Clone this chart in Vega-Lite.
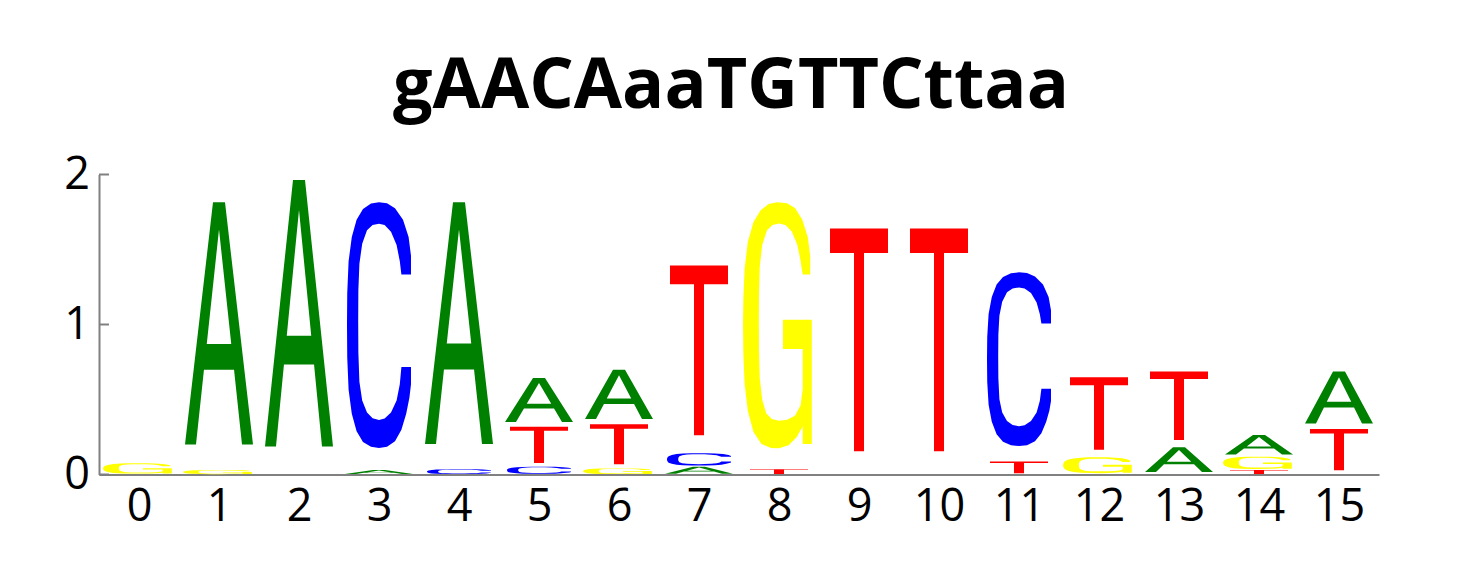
{
  "$schema": "https://vega.github.io/schema/vega-lite/v6.json",
  "description": "Sequence logo for the motif gAACAaaTGTTCttaa, letter heights in bits.",
  "autosize": {"type": "none"},
  "padding": {"left": 99, "top": 174.5, "right": 101, "bottom": 100.5},
  "width": 1280,
  "height": 300,
  "background": "white",
  "title": {
    "text": "gAACAaaTGTTCttaa",
    "font": "Open Sans",
    "fontSize": 70,
    "fontWeight": "bold",
    "color": "black",
    "anchor": "middle",
    "baseline": "alphabetic",
    "offset": 63,
    "dy": 88,
    "dx": -8
  },
  "datasets": {
    "glyphs": [
      {
        "base": "A",
        "gx": [-0.425, -0.075, 0.075, 0.425, 0.2875, 0.188, 0, 0, 0.153, 0, -0.153, 0, 0, -0.188, -0.2875],
        "gy": [0.095, 1, 1, 0.095, 0.095, 0.374, 0.374, 0.471, 0.471, 0.898, 0.471, 0.471, 0.374, 0.374, 0.095],
        "gi": [0, 1, 2, 3, 4, 5, 6, 7, 8, 9, 10, 11, 12, 13, 14]
      },
      {
        "base": "T",
        "gx": [-0.3625, 0.3625, 0.3625, 0.0625, 0.0625, -0.0625, -0.0625, -0.3625],
        "gy": [1, 1, 0.9, 0.9, 0.095, 0.095, 0.9, 0.9],
        "gi": [0, 1, 2, 3, 4, 5, 6, 7]
      },
      {
        "base": "C",
        "gx": [0.4, 0.4, 0.37, 0.3, 0.2, 0.1, 0, -0.1, -0.2, -0.28, -0.34, -0.38, -0.397, -0.4, -0.397, -0.38, -0.34, -0.28, -0.2, -0.1, 0, 0.1, 0.2, 0.28, 0.34, 0.38, 0.4, 0.4,
               0.28, 0.26, 0.22, 0.15, 0.07, 0, -0.08, -0.15, -0.21, -0.245, -0.258, -0.26, -0.258, -0.245, -0.21, -0.15, -0.08, 0, 0.07, 0.15, 0.22, 0.26, 0.28],
        "gy": [0.73, 0.8, 0.87, 0.935, 0.978, 0.996, 1, 0.995, 0.975, 0.935, 0.87, 0.78, 0.66, 0.54, 0.42, 0.3, 0.21, 0.145, 0.105, 0.087, 0.082, 0.087, 0.107, 0.15, 0.21, 0.27, 0.32, 0.385,
               0.385, 0.32, 0.26, 0.215, 0.192, 0.187, 0.193, 0.215, 0.26, 0.33, 0.44, 0.554, 0.67, 0.77, 0.845, 0.895, 0.915, 0.92, 0.915, 0.89, 0.84, 0.78, 0.73],
        "gi": [0, 1, 2, 3, 4, 5, 6, 7, 8, 9, 10, 11, 12, 13, 14, 15, 16, 17, 18, 19, 20, 21, 22, 23, 24, 25, 26, 27,
               28, 29, 30, 31, 32, 33, 34, 35, 36, 37, 38, 39, 40, 41, 42, 43, 44, 45, 46, 47, 48, 49, 50]
      },
      {
        "base": "G",
        "gx": [0.39, 0.39, 0.36, 0.29, 0.2, 0.1, -0.02, -0.13, -0.23, -0.32, -0.39, -0.43, -0.445, -0.45, -0.445, -0.43, -0.39, -0.32, -0.22, -0.1, 0, 0.12, 0.22, 0.296, 0.296, 0.41, 0.41, 0.05, 0.05, 0.296,
               0.296, 0.27, 0.2, 0.1, 0, -0.09, -0.16, -0.21, -0.24, -0.25, -0.252, -0.25, -0.24, -0.21, -0.15, -0.08, 0, 0.08, 0.16, 0.23, 0.27, 0.296],
        "gy": [0.729, 0.8, 0.87, 0.935, 0.978, 0.996, 1, 0.993, 0.97, 0.925, 0.85, 0.75, 0.64, 0.54, 0.43, 0.32, 0.22, 0.14, 0.095, 0.08, 0.079, 0.09, 0.12, 0.16, 0.095, 0.095, 0.56, 0.56, 0.45, 0.45,
               0.3, 0.24, 0.2, 0.185, 0.182, 0.188, 0.21, 0.26, 0.34, 0.44, 0.55, 0.66, 0.76, 0.84, 0.895, 0.915, 0.92, 0.915, 0.89, 0.84, 0.78, 0.729],
        "gi": [0, 1, 2, 3, 4, 5, 6, 7, 8, 9, 10, 11, 12, 13, 14, 15, 16, 17, 18, 19, 20, 21, 22, 23, 24, 25, 26, 27, 28, 29,
               30, 31, 32, 33, 34, 35, 36, 37, 38, 39, 40, 41, 42, 43, 44, 45, 46, 47, 48, 49, 50, 51]
      }
    ],
    "yticks": [
      {"bits": 0, "label": "0", "from": -0.5, "to": -0.375},
      {"bits": 1, "label": "1", "from": -0.5, "to": -0.375},
      {"bits": 2, "label": "2", "from": -0.5, "to": -0.375}
    ],
    "logo": [
      {"pos": 0, "base": "G", "bits": 0.075},
      {"pos": 1, "base": "G", "bits": 0.03},
      {"pos": 1, "base": "A", "bits": 1.785},
      {"pos": 2, "base": "A", "bits": 1.963},
      {"pos": 3, "base": "A", "bits": 0.03},
      {"pos": 3, "base": "C", "bits": 1.785},
      {"pos": 4, "base": "C", "bits": 0.035},
      {"pos": 4, "base": "A", "bits": 1.78},
      {"pos": 5, "base": "C", "bits": 0.052},
      {"pos": 5, "base": "T", "bits": 0.267},
      {"pos": 5, "base": "A", "bits": 0.324},
      {"pos": 6, "base": "G", "bits": 0.041},
      {"pos": 6, "base": "T", "bits": 0.294},
      {"pos": 6, "base": "A", "bits": 0.363},
      {"pos": 7, "base": "A", "bits": 0.052},
      {"pos": 7, "base": "C", "bits": 0.09},
      {"pos": 7, "base": "T", "bits": 1.251},
      {"pos": 8, "base": "T", "bits": 0.035},
      {"pos": 8, "base": "G", "bits": 1.78},
      {"pos": 9, "base": "T", "bits": 1.64},
      {"pos": 10, "base": "T", "bits": 1.64},
      {"pos": 11, "base": "T", "bits": 0.086},
      {"pos": 11, "base": "C", "bits": 1.262},
      {"pos": 12, "base": "G", "bits": 0.115},
      {"pos": 12, "base": "T", "bits": 0.534},
      {"pos": 13, "base": "A", "bits": 0.182},
      {"pos": 13, "base": "T", "bits": 0.505},
      {"pos": 14, "base": "T", "bits": 0.03},
      {"pos": 14, "base": "G", "bits": 0.089},
      {"pos": 14, "base": "A", "bits": 0.145},
      {"pos": 15, "base": "T", "bits": 0.304},
      {"pos": 15, "base": "A", "bits": 0.383}
    ]
  },
  "layer": [
    {
      "data": {"name": "logo"},
      "transform": [
        {"stack": "bits", "groupby": ["pos"], "sort": [{"field": "bits", "order": "ascending"}], "as": ["y0", "y1"]},
        {"lookup": "base", "from": {"data": {"name": "glyphs"}, "key": "base", "fields": ["gx", "gy", "gi"]}},
        {"flatten": ["gx", "gy", "gi"]},
        {"calculate": "datum.pos + datum.gx", "as": "px"},
        {"calculate": "datum.y0 + datum.gy * (datum.y1 - datum.y0)", "as": "py"}
      ],
      "mark": {"type": "line", "filled": true, "strokeWidth": 0, "interpolate": "linear"},
      "encoding": {
        "x": {
          "field": "px",
          "type": "quantitative",
          "scale": {"domain": [-0.5, 15.5], "nice": false, "zero": false},
          "axis": {
            "values": [0, 1, 2, 3, 4, 5, 6, 7, 8, 9, 10, 11, 12, 13, 14, 15],
            "format": "d",
            "title": null,
            "ticks": false,
            "grid": false,
            "domainColor": "#808080",
            "domainWidth": 2,
            "labelFont": "Open Sans",
            "labelFontSize": 45,
            "labelColor": "black",
            "labelPadding": 10,
            "labelFlush": false,
            "labelOverlap": false
          }
        },
        "y": {
          "field": "py",
          "type": "quantitative",
          "scale": {"domain": [0, 2], "nice": false},
          "axis": {
            "title": null,
            "grid": false,
            "ticks": false,
            "labels": false,
            "domainColor": "#808080",
            "domainWidth": 2
          }
        },
        "color": {
          "field": "base",
          "type": "nominal",
          "scale": {"domain": ["A", "C", "G", "T"], "range": ["#008000", "#0000ff", "#ffff00", "#ff0000"]},
          "legend": null
        },
        "detail": {"field": "pos", "type": "ordinal"},
        "order": {"field": "gi", "type": "quantitative"}
      }
    },
    {
      "data": {"name": "yticks"},
      "mark": {"type": "rule", "color": "#808080", "strokeWidth": 2},
      "encoding": {
        "x": {"field": "from", "type": "quantitative"},
        "x2": {"field": "to"},
        "y": {"field": "bits", "type": "quantitative"}
      }
    },
    {
      "data": {"name": "yticks"},
      "mark": {"type": "text", "align": "right", "baseline": "middle", "dx": -9, "font": "Open Sans", "fontSize": 45, "color": "black"},
      "encoding": {
        "x": {"field": "from", "type": "quantitative"},
        "y": {"field": "bits", "type": "quantitative"},
        "text": {"field": "label"}
      }
    }
  ],
  "config": {"view": {"stroke": null}}
}
